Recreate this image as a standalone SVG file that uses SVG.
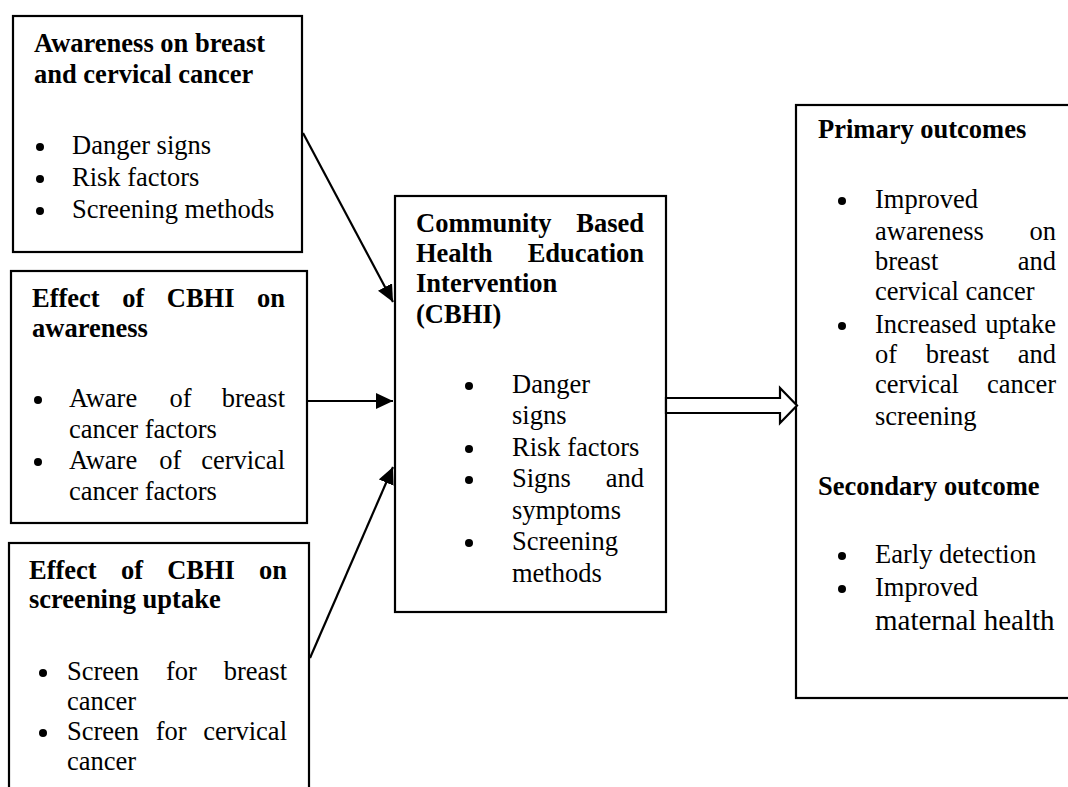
<svg xmlns="http://www.w3.org/2000/svg" width="1068" height="787" viewBox="0 0 1068 787">
<defs>
<style>
.box{fill:#fff;stroke:#000;stroke-width:2.2}
.t{font-family:"Liberation Serif","Times New Roman",serif;font-size:26.5px;fill:#000}
.b{font-weight:bold}
.e{text-anchor:end}
.dot{fill:#000}
.conn{stroke:#000;stroke-width:2.2;fill:none}
.big{font-size:29px}
</style>
<marker id="ah" markerUnits="userSpaceOnUse" markerWidth="18" markerHeight="16" refX="17" refY="8" orient="auto">
<path d="M0,0 L17,8 L0,16 Z" fill="#000"/>
</marker>
</defs>
<rect width="1068" height="787" fill="#fff"/>

<g id="node-awareness">
<rect class="box" x="13" y="16" width="289" height="236"/>
<text class="t b" x="34" y="52">Awareness on breast</text>
<text class="t b" x="34" y="83">and cervical cancer</text>
<circle class="dot" cx="40" cy="147" r="4"/>
<circle class="dot" cx="40" cy="179" r="4"/>
<circle class="dot" cx="40" cy="211" r="4"/>
<text class="t" x="72" y="154">Danger signs</text>
<text class="t" x="72" y="186">Risk factors</text>
<text class="t" x="72" y="218">Screening methods</text>
</g>

<g id="node-effect-awareness">
<rect class="box" x="11" y="271" width="296" height="252"/>
<text class="t b" y="307"><tspan x="32">Effect</tspan><tspan x="122.2">of</tspan><tspan x="166.8">CBHI</tspan></text>
<text class="t b e" x="285" y="307">on</text>
<text class="t b" x="32" y="337">awareness</text>
<circle class="dot" cx="38" cy="400" r="4"/>
<circle class="dot" cx="38" cy="462" r="4"/>
<text class="t" y="407"><tspan x="69">Aware</tspan><tspan x="169.6">of</tspan></text>
<text class="t e" x="285" y="407">breast</text>
<text class="t" x="69" y="438">cancer factors</text>
<text class="t" y="469"><tspan x="69">Aware</tspan><tspan x="159.3">of</tspan></text>
<text class="t e" x="285" y="469">cervical</text>
<text class="t" x="69" y="500">cancer factors</text>
</g>

<g id="node-effect-screening">
<rect class="box" x="9" y="543" width="300" height="260"/>
<text class="t b" y="579"><tspan x="29">Effect</tspan><tspan x="120.9">of</tspan><tspan x="167.2">CBHI</tspan></text>
<text class="t b e" x="287" y="579">on</text>
<text class="t b" x="29" y="608">screening uptake</text>
<circle class="dot" cx="43" cy="673" r="4"/>
<circle class="dot" cx="43" cy="733" r="4"/>
<text class="t" y="680"><tspan x="67">Screen</tspan><tspan x="166">for</tspan></text>
<text class="t e" x="287" y="680">breast</text>
<text class="t" x="67" y="710">cancer</text>
<text class="t" y="740"><tspan x="67">Screen</tspan><tspan x="155.7">for</tspan></text>
<text class="t e" x="287" y="740">cervical</text>
<text class="t" x="67" y="770">cancer</text>
</g>

<g id="node-cbhi">
<rect class="box" x="395" y="196" width="271" height="416"/>
<text class="t b" x="416" y="232">Community</text>
<text class="t b e" x="644" y="232">Based</text>
<text class="t b" x="416" y="262">Health</text>
<text class="t b e" x="644" y="262">Education</text>
<text class="t b" x="416" y="292">Intervention</text>
<text class="t b" x="416" y="323">(CBHI)</text>
<circle class="dot" cx="469" cy="386" r="4"/>
<circle class="dot" cx="469" cy="449" r="4"/>
<circle class="dot" cx="469" cy="480" r="4"/>
<circle class="dot" cx="469" cy="543" r="4"/>
<text class="t" x="512" y="393">Danger</text>
<text class="t" x="512" y="424">signs</text>
<text class="t" x="512" y="456">Risk factors</text>
<text class="t" x="512" y="487">Signs</text>
<text class="t e" x="644" y="487">and</text>
<text class="t" x="512" y="519">symptoms</text>
<text class="t" x="512" y="550">Screening</text>
<text class="t" x="512" y="582">methods</text>
</g>

<g id="node-outcomes">
<rect class="box" x="796" y="105" width="280" height="593"/>
<text class="t b" x="818" y="138">Primary outcomes</text>
<circle class="dot" cx="842" cy="201" r="4"/>
<circle class="dot" cx="842" cy="326" r="4"/>
<text class="t" x="875" y="208">Improved</text>
<text class="t" x="875" y="240">awareness</text>
<text class="t e" x="1056" y="240">on</text>
<text class="t" x="875" y="270">breast</text>
<text class="t e" x="1056" y="270">and</text>
<text class="t" x="875" y="300">cervical cancer</text>
<text class="t" x="875" y="333">Increased</text>
<text class="t e" x="1056" y="333">uptake</text>
<text class="t" y="363"><tspan x="875">of</tspan><tspan x="925.8">breast</tspan></text>
<text class="t e" x="1056" y="363">and</text>
<text class="t" x="875" y="393">cervical</text>
<text class="t e" x="1056" y="393">cancer</text>
<text class="t" x="875" y="425">screening</text>
<text class="t b" x="818" y="495">Secondary outcome</text>
<circle class="dot" cx="842" cy="556" r="4"/>
<circle class="dot" cx="842" cy="589" r="4"/>
<text class="t" x="875" y="563">Early detection</text>
<text class="t" x="875" y="596">Improved</text>
<text class="t big" x="875" y="630">maternal health</text>
</g>

<g id="connectors">
<line class="conn" x1="303" y1="133" x2="393" y2="302" marker-end="url(#ah)"/>
<line class="conn" x1="307" y1="401" x2="393" y2="401" marker-end="url(#ah)"/>
<line class="conn" x1="310" y1="658" x2="393" y2="467" marker-end="url(#ah)"/>
<polygon class="conn" fill="#fff" style="fill:#fff" points="666,398 780,398 780,388 797,405.5 780,423 780,413 666,413"/>
</g>
</svg>
